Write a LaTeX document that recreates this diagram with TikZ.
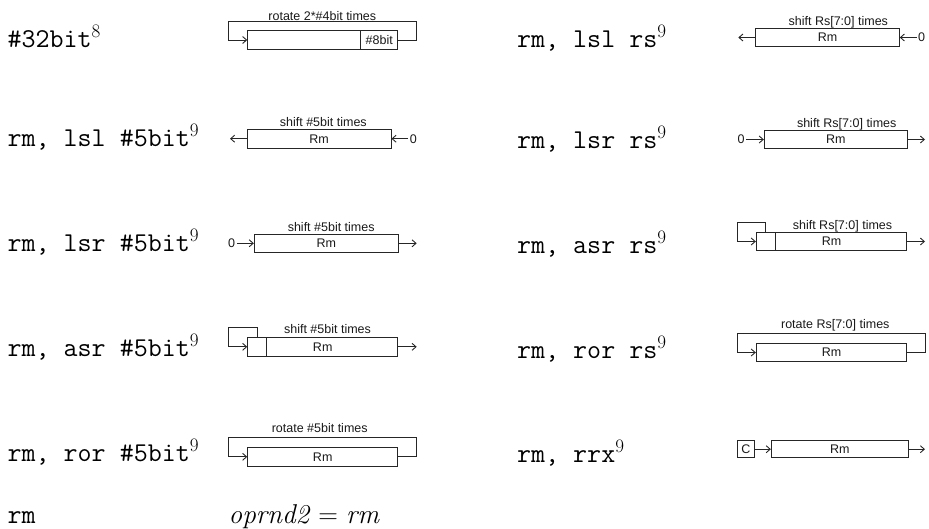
\RequirePackage{fix-cm}
\documentclass[tikz,border=0pt]{standalone}
\usepackage{fontspec}
\newfontfamily\diag{Liberation Sans}
\usetikzlibrary{arrows.meta}
\tikzset{
  wire/.style={line width=0.9pt, draw=black!85},
  arr/.style={wire, -{Straight Barb[length=4pt,width=7pt]}},
  reg/.style={draw=black!85, line width=0.9pt, rectangle, inner sep=0pt,
    minimum height=18.5pt, text=black!90, font=\diag\fontsize{12.5}{14}\selectfont},
  caplbl/.style={font=\diag\fontsize{12.5}{14}\selectfont, text=black!90, anchor=base, inner sep=0pt},
  zero/.style={font=\diag\fontsize{12.5}{14}\selectfont, text=black!90, inner sep=1.5pt},
  opnd/.style={font=\fontsize{27.2}{30}\selectfont, anchor=base west, inner sep=0pt},
}
\begin{document}
\begin{tikzpicture}[x=1pt,y=-1pt]
\useasboundingbox (0,0) rectangle (929,528);

% ---------- left column labels ----------
\node[opnd] (L1) at (7.5,47) {\texttt{\#32bit}$^{8}$};
\node[opnd] (L2) at (7.5,146.7) {\texttt{rm, lsl \#5bit}$^{9}$};
\node[opnd] (L3) at (7.5,251.7) {\texttt{rm, lsr \#5bit}$^{9}$};
\node[opnd] (L4) at (7.5,356.7) {\texttt{rm, asr \#5bit}$^{9}$};
\node[opnd] (L5) at (7.5,461.7) {\texttt{rm, ror \#5bit}$^{9}$};
\node[opnd] (L6) at (7.5,523) {\texttt{rm}};
\node[opnd] (M6) at (228.5,523) {\textit{oprnd2}\hspace{8pt}$=$\hspace{8pt}\textit{rm}};

% ---------- right column labels ----------
\node[opnd] (R1) at (517,47) {\texttt{rm, lsl rs}$^{9}$};
\node[opnd] (R2) at (517,148.5) {\texttt{rm, lsr rs}$^{9}$};
\node[opnd] (R3) at (517,253) {\texttt{rm, asr rs}$^{9}$};
\node[opnd] (R4) at (517,358) {\texttt{rm, ror rs}$^{9}$};
\node[opnd] (R5) at (517,462) {\texttt{rm, rrx}$^{9}$};

% ---------- row 1 left: #32bit ----------
\node[reg, minimum width=113pt] (a1) at (304.2,40) {};
\node[reg, minimum width=37pt] (b1) at (379.2,40) {\#8bit};
\coordinate (p1a) at (416,21.7);
\coordinate (p1b) at (228.7,21.7);
\draw[arr] (b1.east) -| (p1a) -- (p1b) |- (a1.west);
\node[caplbl] (c1) at (322.3,20.3) {rotate 2*\#4bit times};

% ---------- row 2 left: lsl #5bit ----------
\node[reg, minimum width=144pt] (a2) at (319,138.7) {Rm};
\node[caplbl] (c2) at (323.3,126.5) {shift \#5bit times};
\coordinate (t2) at (230,138.7);
\draw[arr] (a2.west) -- (t2);
\node[zero] (z2) at (413.3,138.7) {0};
\draw[arr] (z2.west) -- (a2.east);

% ---------- row 3 left: lsr #5bit ----------
\node[reg, minimum width=144pt] (a3) at (326.3,243.3) {Rm};
\node[caplbl] (c3) at (331.2,231.5) {shift \#5bit times};
\node[zero] (z3) at (231.7,243.3) {0};
\draw[arr] (z3.east) -- (a3.west);
\coordinate (t3) at (416.7,243.3);
\draw[arr] (a3.east) -- (t3);

% ---------- row 4 left: asr #5bit ----------
\node[reg, minimum width=150pt] (a4) at (322.7,346.8) {Rm};
\node[reg, minimum width=19pt] (s4) at (257.2,346.8) {};
\coordinate (p4) at (228.7,327.7);
\draw[arr] (s4.north) |- (p4) |- (s4.west);
\node[caplbl] (c4) at (327.5,333.8) {shift \#5bit times};
\coordinate (t4) at (416.7,346.8);
\draw[arr] (a4.east) -- (t4);

% ---------- row 5 left: ror #5bit ----------
\node[reg, minimum width=150pt] (a5) at (322.7,456.8) {Rm};
\coordinate (p5a) at (416,437.7);
\coordinate (p5b) at (228.7,437.7);
\draw[arr] (a5.east) -| (p5a) -- (p5b) |- (a5.west);
\node[caplbl] (c5) at (319.7,432.5) {rotate \#5bit times};

% ---------- row 1 right: lsl rs ----------
\node[reg, minimum width=143.6pt] (b6) at (827.5,37.5) {Rm};
\node[caplbl] (c6) at (838.3,25.8) {shift Rs[7:0] times};
\coordinate (t6) at (738.3,37.5);
\draw[arr] (b6.west) -- (t6);
\node[zero] (z6) at (921.7,37.5) {0};
\draw[arr] (z6.west) -- (b6.east);

% ---------- row 2 right: lsr rs ----------
\node[reg, minimum width=143pt] (b7) at (835.8,139.5) {Rm};
\node[caplbl] (c7) at (846.7,127.8) {shift Rs[7:0] times};
\node[zero] (z7) at (741,139.5) {0};
\draw[arr] (z7.east) -- (b7.west);
\coordinate (t7) at (925,139.5);
\draw[arr] (b7.east) -- (t7);

% ---------- row 3 right: asr rs ----------
\node[reg, minimum width=150.4pt] (b8) at (831.5,241.5) {Rm};
\node[reg, minimum width=19pt] (s8) at (765.8,241.5) {};
\coordinate (p8) at (737.3,222.3);
\draw[arr] (s8.north) |- (p8) |- (s8.west);
\node[caplbl] (c8) at (842.5,229.1) {shift Rs[7:0] times};
\coordinate (t8) at (925,241.5);
\draw[arr] (b8.east) -- (t8);

% ---------- row 4 right: ror rs ----------
\node[reg, minimum width=150.4pt] (b9) at (831.5,352.5) {Rm};
\coordinate (p9a) at (925.3,333.3);
\coordinate (p9b) at (737.3,333.3);
\draw[arr] (b9.east) -| (p9a) -- (p9b) |- (b9.west);
\node[caplbl] (c9) at (835.3,328.1) {rotate Rs[7:0] times};

% ---------- row 5 right: rrx ----------
\node[reg, minimum width=17.4pt, minimum height=17pt] (k10) at (746,449.2) {C};
\node[reg, minimum width=137pt, minimum height=17pt] (b10) at (839.8,449.2) {Rm};
\draw[arr] (k10.east) -- (b10.west);
\coordinate (t10) at (925,449.2);
\draw[arr] (b10.east) -- (t10);
\end{tikzpicture}
\end{document}
